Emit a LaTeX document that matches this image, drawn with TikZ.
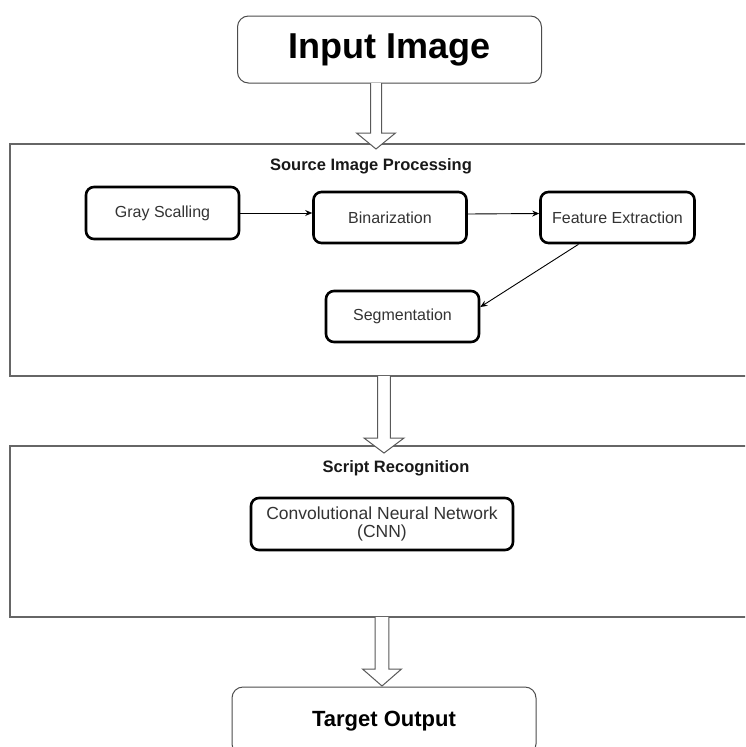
\documentclass[tikz,border=0pt]{standalone}
\usepackage{fontspec}
\setmainfont{Liberation Sans}
\usetikzlibrary{arrows.meta,calc}
\tikzset{
  stepbox/.style={draw=black, line width=2.6pt, rounded corners=8pt, minimum width=153pt,
    minimum height=51pt, text=black!80, font=\fontsize{16}{19}\selectfont, inner sep=0pt, align=center},
  endbox/.style={draw=black!70, line width=1pt, rounded corners=11pt, minimum width=304pt,
    inner sep=0pt, text=black, font=\bfseries},
  container/.style={draw=black!60, line width=1.6pt, inner sep=0pt},
  title/.style={font=\bfseries\fontsize{16.5}{19}\selectfont, text=black!90, inner sep=0pt},
  flow/.style={draw=black, line width=0.9pt, -{Stealth[length=7pt,width=6pt]}},
  hollow/.style={draw=black!65, fill=white, line width=1pt, line join=miter},
}
% #1 start, #2 tip, #3 shaft half width, #4 head half width, #5 head length
\newcommand\hollowarrow[5]{%
  \draw[hollow] let \p1=(#1), \p2=(#2) in
    (\x1-#3,\y1) -- (\x1-#3,\y2+#5) -- (\x1-#4,\y2+#5) -- (\x2,\y2)
    -- (\x1+#4,\y2+#5) -- (\x1+#3,\y2+#5) -- (\x1+#3,\y1);}
\begin{document}
\begin{tikzpicture}[x=1pt,y=-1pt]
\useasboundingbox (0,0) rectangle (745,747);
\fill[white] (0,0) rectangle (745,747);
\clip (0,0) rectangle (745,747);

% input
\node[endbox, minimum height=67pt, font=\bfseries\fontsize{36}{40}\selectfont] (in) at (389.5,49.5) {Input Image};

% container 1
\node[container, minimum width=749.5pt, minimum height=232pt] (c1) at (385,260) {};
\node[title] (t1) at (371,166) {Source Image Processing};
\node[stepbox, minimum height=52pt] (gray) at (162.5,213) {Gray Scalling};
\node[stepbox] (bin) at (390,217.5) {Binarization};
\node[stepbox, minimum width=154pt] (fe) at (617.5,217.5) {Feature Extraction};
\node[stepbox] (seg) at (402.5,316.5) {Segmentation};
\draw[flow] (gray.east) -- (gray.east -| bin.west);
\draw[flow] ([yshift=3.5pt]bin.east) -- ([yshift=4pt]fe.west);
\draw[flow] ([xshift=-39pt]fe.south) -- ([yshift=9.5pt]seg.east);

% container 2
\node[container, minimum width=749.5pt, minimum height=171pt] (c2) at (385,531.5) {};
\node[title] (t2) at (396,468) {Script Recognition};
\node[stepbox, minimum width=262pt, minimum height=52pt, font=\fontsize{17.5}{17.5}\selectfont] (cnn) at (382,524) {Convolutional Neural Network\\(CNN)};

% target
\node[endbox, minimum height=68pt, font=\bfseries\fontsize{22}{26}\selectfont] (out) at (384,721) {Target Output};

% hollow arrows
\coordinate (a1s) at (376,83);  \coordinate (a1e) at (376,149);
\coordinate (a2s) at (384,376); \coordinate (a2e) at (384,453);
\coordinate (a3s) at (382,617); \coordinate (a3e) at (382,686);
\hollowarrow{a1s}{a1e}{5.5pt}{19.5pt}{16pt}
\hollowarrow{a2s}{a2e}{6.4pt}{20pt}{15pt}
\hollowarrow{a3s}{a3e}{6.8pt}{19.5pt}{17pt}
\end{tikzpicture}
\end{document}
